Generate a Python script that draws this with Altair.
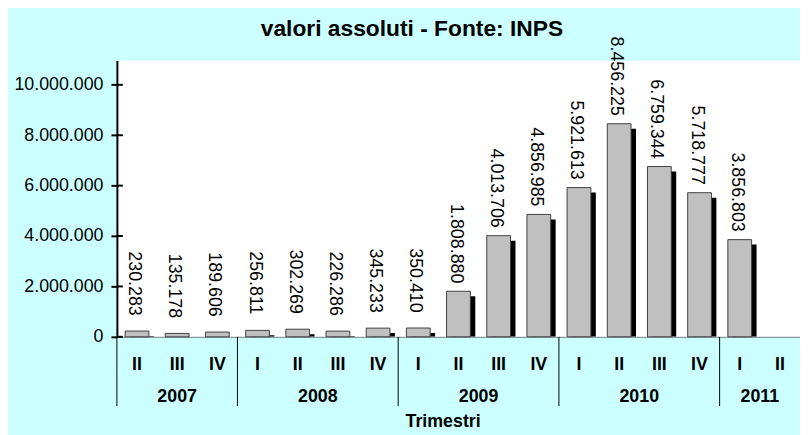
import altair as alt
import pandas as pd

# ---- data ----
years = ["2007", "2007", "2007", "2008", "2008", "2008", "2008",
         "2009", "2009", "2009", "2009", "2010", "2010", "2010", "2010",
         "2011", "2011"]
quarters = ["II", "III", "IV", "I", "II", "III", "IV",
            "I", "II", "III", "IV", "I", "II", "III", "IV",
            "I", "II"]
values = [230283, 135178, 189606, 256811, 302269, 226286, 345233,
          350410, 1808880, 4013706, 4856985, 5921613, 8456225, 6759344, 5718777,
          3856803, None]
y_ticks = [0, 2000000, 4000000, 6000000, 8000000, 10000000]


def fmt(v):
    return "" if v is None else f"{v:,}".replace(",", ".")


df = pd.DataFrame({
    "anno": years,
    "trim": quarters,
    "valore": values,
    "etichetta": [fmt(v) for v in values],
})
df["i"] = range(len(df))
ticks_df = pd.DataFrame({"v": y_ticks})

W, H = 690, 279
N = len(df)
HALF = (24 / (W / N)) / 2
FONT = "Liberation Sans"

x_scale = alt.Scale(domain=[0, N], nice=False, zero=False)
y_scale = alt.Scale(domain=[0, 10960000], nice=False)

x_axis = alt.Axis(title="Trimestri", labels=False, ticks=False, grid=False,
                  domainColor="#808080", domainWidth=1,
                  titleFont=FONT, titleFontSize=18, titleFontWeight="bold",
                  titleColor="black", titleX=329, titleY=91,
                  titleAlign="center", titleBaseline="alphabetic")
y_axis = alt.Axis(values=y_ticks, title=None, grid=False,
                  labelExpr="replace(format(datum.value, ','), regexp(',', 'g'), '.')",
                  domainColor="black", domainWidth=2,
                  tickColor="black", tickWidth=2, tickSize=6,
                  labelPadding=8, labelFont=FONT, labelFontSize=18,
                  labelColor="black")

base = alt.Chart(df).transform_calculate(
    x0=f"datum.i + 0.5 - {HALF}",
    x1=f"datum.i + 0.5 + {HALF}",
    xc="datum.i + 0.5",
)
valid = base.transform_filter("isValid(datum.valore)")

shadow = valid.mark_bar(color="black", xOffset=5, x2Offset=5, yOffset=5, clip=True).encode(
    x=alt.X("x0:Q", scale=x_scale, axis=x_axis),
    x2="x1:Q",
    y=alt.Y("valore:Q", scale=y_scale, axis=y_axis),
    y2=alt.datum(0),
)

bars = valid.mark_bar(color="#C0C0C0", stroke="#404040", strokeWidth=1).encode(
    x=alt.X("x0:Q", scale=x_scale, axis=x_axis),
    x2="x1:Q",
    y=alt.Y("valore:Q", scale=y_scale, axis=y_axis),
    y2=alt.datum(0),
)

labels = valid.mark_text(angle=90, align="center", baseline="middle", dx=-48, dy=3,
                         font=FONT, fontSize=18, color="black").encode(
    x=alt.X("xc:Q", scale=x_scale, axis=x_axis),
    y=alt.Y("valore:Q", scale=y_scale, axis=y_axis),
    text="etichetta:N",
)

inner_ticks = alt.Chart(ticks_df).mark_rule(color="black", strokeWidth=2).encode(
    y=alt.Y("v:Q", scale=y_scale, axis=y_axis),
    x=alt.value(0),
    x2=alt.value(6),
)

q_labels = base.mark_text(font=FONT, fontSize=18, fontWeight="bold", color="black",
                          baseline="middle").encode(
    x=alt.X("xc:Q", scale=x_scale, axis=x_axis),
    y=alt.value(H + 28),
    text="trim:N",
)

year_labels = base.transform_aggregate(
    a="min(i)", b="max(i)", groupby=["anno"]
).transform_calculate(mid="(datum.a + datum.b + 1) / 2").mark_text(
    font=FONT, fontSize=18, fontWeight="bold", color="black", baseline="middle"
).encode(
    x=alt.X("mid:Q", scale=x_scale, axis=x_axis),
    y=alt.value(H + 61),
    text="anno:N",
)

separators = base.transform_aggregate(a="min(i)", groupby=["anno"]).mark_rule(
    color="black", strokeWidth=1
).encode(
    x=alt.X("a:Q", scale=x_scale, axis=x_axis),
    y=alt.value(H),
    y2=alt.value(H + 70),
)

chart = alt.layer(
    shadow, bars, labels, inner_ticks, separators, q_labels, year_labels
).properties(
    width=W,
    height=H,
    title=alt.TitleParams("valori assoluti - Fonte: INPS", font=FONT, fontSize=23,
                          fontWeight="bold", color="black", anchor="middle",
                          dx=-47, dy=8),
    autosize=alt.AutoSizeParams(type="none"),
    padding={"left": 110, "top": 51, "right": 0, "bottom": 97},
).configure(
    background="#CCFFFF",
).configure_view(
    fill="white", stroke=None,
)

chart.save("out.html", embed_options={"renderer": "svg", "actions": False})
